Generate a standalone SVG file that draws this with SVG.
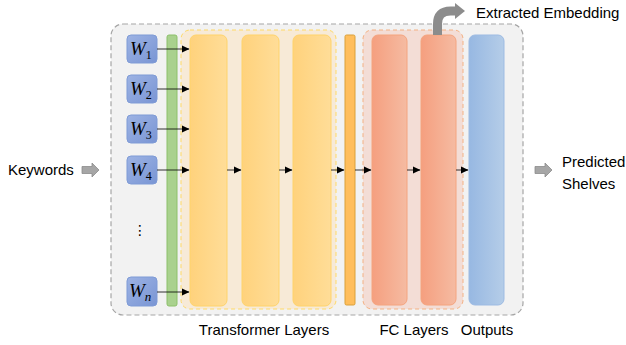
<svg xmlns="http://www.w3.org/2000/svg" width="626" height="345" viewBox="0 0 626 345">
<style>
.lbl{font-family:"Liberation Sans",Arial,sans-serif;font-size:15px;fill:#000}
.w{font-family:"Liberation Serif","DejaVu Serif",serif;font-style:italic;font-size:19px;fill:#000}
.ws{font-family:"Liberation Serif","DejaVu Serif",serif;font-style:normal;font-size:12px}
.wn{font-family:"Liberation Serif","DejaVu Serif",serif;font-style:italic;font-size:13px}
.wbox{fill:url(#gBlue);stroke:#7F9BD6;stroke-width:1}
.tb{fill:url(#gYel);stroke:#FFD36B;stroke-width:1}
.fc{fill:url(#gRed);stroke:#F4A47F;stroke-width:1}
.conn{stroke:#000;stroke-width:0.8;fill:none;marker-end:url(#ah)}
.garrow{fill:#A6A6A6;stroke:#8C8C8C;stroke-width:0.8}
</style>
<defs>
<linearGradient id="gBlue" x1="0" y1="0" x2="1" y2="1"><stop offset="0" stop-color="#9DB3E4"/><stop offset="1" stop-color="#7995D4"/></linearGradient>
<linearGradient id="gYel" x1="0" y1="0" x2="1" y2="0"><stop offset="0" stop-color="#FFD27C"/><stop offset="1" stop-color="#FFDD98"/></linearGradient>
<linearGradient id="gRed" x1="0" y1="0" x2="1" y2="0"><stop offset="0" stop-color="#F59F7F"/><stop offset="1" stop-color="#F5BBA2"/></linearGradient>
<linearGradient id="gOut" x1="0" y1="0" x2="1" y2="0"><stop offset="0" stop-color="#97B8E2"/><stop offset="1" stop-color="#B5CDE8"/></linearGradient>
<marker id="ah" markerWidth="8" markerHeight="8" refX="7" refY="4" orient="auto" markerUnits="userSpaceOnUse"><path d="M0,0.5 L7.5,4 L0,7.5 Z" fill="#000"/></marker>
</defs>

<g id="container">
<rect x="111" y="24" width="412" height="291" rx="12" fill="#F2F2F2" stroke="#A6A6A6" stroke-width="1.2" stroke-dasharray="5,3"/>
</g>

<g id="transformer-group">
<rect x="181" y="30" width="155" height="279" rx="9" fill="#F7EAD7" stroke="#FFD966" stroke-width="1" stroke-dasharray="4,3"/>
<text class="lbl" x="264" y="335" text-anchor="middle">Transformer Layers</text>
</g>
<g id="fc-group">
<rect x="363" y="30" width="100" height="279" rx="9" fill="#F3DDD6" stroke="#F4B183" stroke-width="1" stroke-dasharray="4,3"/>
<text class="lbl" x="414" y="335" text-anchor="middle">FC Layers</text>
</g>

<g id="w1"><rect class="wbox" x="127" y="35" width="30" height="28" rx="4"/><text class="w" x="130" y="55">W<tspan class="ws" dy="4">1</tspan></text></g>
<g id="w2"><rect class="wbox" x="127" y="75" width="30" height="28" rx="4"/><text class="w" x="130" y="95">W<tspan class="ws" dy="4">2</tspan></text></g>
<g id="w3"><rect class="wbox" x="127" y="115" width="30" height="28" rx="4"/><text class="w" x="130" y="135">W<tspan class="ws" dy="4">3</tspan></text></g>
<g id="w4"><rect class="wbox" x="127" y="156" width="30" height="28" rx="4"/><text class="w" x="130" y="176">W<tspan class="ws" dy="4">4</tspan></text></g>
<g id="dots"><text x="140" y="235" text-anchor="middle" style="font-family:'DejaVu Sans',sans-serif;font-size:14px">⋮</text></g>
<g id="wn"><rect class="wbox" x="127" y="277" width="30" height="29" rx="4"/><text class="w" x="129" y="297">W<tspan class="wn" dy="4">n</tspan></text></g>

<g id="embed-bar"><rect x="167" y="35" width="10" height="271" rx="2" fill="#A9D18E" stroke="#8CC06A" stroke-width="1"/></g>

<g id="t1"><rect class="tb" x="190" y="35" width="37" height="271" rx="6"/></g>
<g id="t2"><rect class="tb" x="242" y="35" width="37" height="271" rx="6"/></g>
<g id="t3"><rect class="tb" x="293" y="35" width="38" height="271" rx="6"/></g>

<g id="pool-bar"><rect x="345" y="35" width="10" height="270" rx="1.5" fill="#FFBE5C" stroke="#D9A03A" stroke-width="1"/></g>

<g id="fc1"><rect class="fc" x="372" y="35" width="35" height="270" rx="6"/></g>
<g id="fc2"><rect class="fc" x="421" y="35" width="35" height="270" rx="6"/></g>

<g id="outputs">
<rect x="469" y="35" width="35" height="270" rx="6" fill="url(#gOut)" stroke="#9DBBE3" stroke-width="1"/>
<text class="lbl" x="487" y="335" text-anchor="middle">Outputs</text>
</g>

<g id="keywords">
<text class="lbl" x="8" y="175">Keywords</text>
<path class="garrow" d="M82,166.5 H92 V163 L99,170 L92,177 V173.5 H82 Z"/>
</g>
<g id="predicted">
<path class="garrow" d="M535,166.5 H545 V163 L552,170 L545,177 V173.5 H535 Z"/>
<text class="lbl" x="562" y="167">Predicted</text>
<text class="lbl" x="562" y="189">Shelves</text>
</g>
<g id="extracted">
<path d="M437.5,35 V24 Q437.5,11 450.5,11 H456" fill="none" stroke="#8C8C8C" stroke-width="9"/>
<path d="M455,3 L465,11 L455,19 Z" fill="#8C8C8C"/>
<text class="lbl" x="476" y="18">Extracted Embedding</text>
</g>

<g id="connectors">
<line class="conn" x1="157" y1="49" x2="189" y2="49"/>
<line class="conn" x1="157" y1="89" x2="189" y2="89"/>
<line class="conn" x1="157" y1="129" x2="189" y2="129"/>
<line class="conn" x1="157" y1="170" x2="189" y2="170"/>
<line class="conn" x1="157" y1="292" x2="189" y2="292"/>
<line class="conn" x1="227" y1="170" x2="241" y2="170"/>
<line class="conn" x1="279" y1="170" x2="292" y2="170"/>
<line class="conn" x1="331" y1="170" x2="344" y2="170"/>
<line class="conn" x1="355" y1="170" x2="371" y2="170"/>
<line class="conn" x1="407" y1="170" x2="420" y2="170"/>
<line class="conn" x1="456" y1="170" x2="468" y2="170"/>
</g>
</svg>
